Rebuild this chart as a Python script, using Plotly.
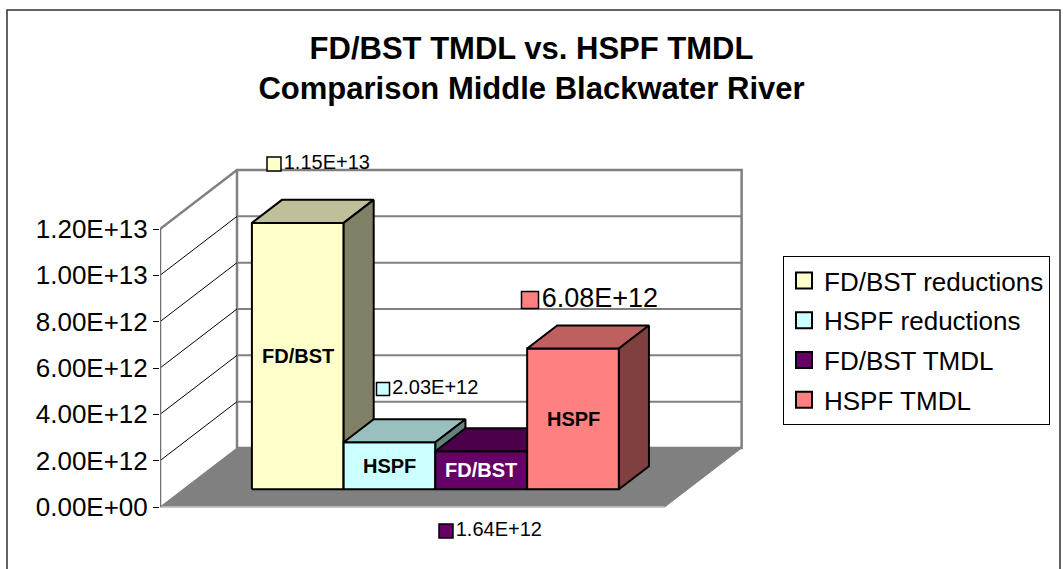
import plotly.graph_objects as go

# ---------------- data ----------------
categories = ["FD/BST reductions", "HSPF reductions", "FD/BST TMDL", "HSPF TMDL"]
values = [1.15e13, 2.03e12, 1.64e12, 6.08e12]
bar_labels = ["FD/BST", "HSPF", "FD/BST", "HSPF"]
value_labels = ["1.15E+13", "2.03E+12", "1.64E+12", "6.08E+12"]
tick_values = [0, 2e12, 4e12, 6e12, 8e12, 1e13, 1.2e13]
tick_labels = ["0.00E+00", "2.00E+12", "4.00E+12", "6.00E+12",
               "8.00E+12", "1.00E+13", "1.20E+13"]

# ---------------- style ----------------
front_colors = ["#FFFFCC", "#CCFFFF", "#660066", "#FF8080"]
top_colors = ["#BFBF99", "#99BFBF", "#4C004C", "#BF6060"]
side_colors = ["#808066", "#668080", "#330033", "#804040"]
label_colors = ["black", "black", "white", "black"]
FONT = "Arial, Liberation Sans, sans-serif"

W, H = 1063, 569
PL, PR, PT, PB = 160, 745, 140, 545          # plot area in pixels
ZERO_PX, TOP_PX = 507, 229                   # pixel rows of 0 and 1.2e13 on front plane
PX_PER_X = 91.75                             # pixels per category unit
PX_PER_Y = (ZERO_PX - TOP_PX) / tick_values[-1]
X_LEFT = -0.75
X_RIGHT = len(values) + 0.75
DX = 77 / PX_PER_X                           # depth offset (x units)
DY = 59 / PX_PER_Y                           # depth offset (value units)
Z0, Z1 = 0.30, 0.69                          # bar depth span (fraction of floor depth)
VMAX = tick_values[-1]

x_range = [X_LEFT, X_LEFT + (PR - PL) / PX_PER_X]
y_range = [-(PB - ZERO_PX) / PX_PER_Y, (ZERO_PX - PT) / PX_PER_Y]


def P(x, v, z):
    return x + z * DX, v + z * DY


def poly(pts, fill, line_color="black", width=2):
    xs = [p[0] for p in pts] + [pts[0][0]]
    ys = [p[1] for p in pts] + [pts[0][1]]
    return go.Scatter(x=xs, y=ys, mode="lines", fill="toself", fillcolor=fill,
                      line=dict(color=line_color, width=width),
                      hoverinfo="skip", showlegend=False)


def seg(a, b, color, width):
    return go.Scatter(x=[a[0], b[0]], y=[a[1], b[1]], mode="lines",
                      line=dict(color=color, width=width),
                      hoverinfo="skip", showlegend=False)


def px2x(px):
    return X_LEFT + (px - PL) / PX_PER_X


def py2y(py):
    return (ZERO_PX - py) / PX_PER_Y


fig = go.Figure()

# back wall
fig.add_trace(poly([P(X_LEFT, 0, 1), P(X_RIGHT, 0, 1), P(X_RIGHT, VMAX, 1), P(X_LEFT, VMAX, 1)],
                   "white", "#808080", 2.5))
for v in tick_values[1:-1]:
    fig.add_trace(seg(P(X_LEFT, v, 1), P(X_RIGHT, v, 1), "#808080", 2))
# left wall
for v in tick_values[1:-1]:
    fig.add_trace(seg(P(X_LEFT, v, 0), P(X_LEFT, v, 1), "black", 1))
fig.add_trace(seg(P(X_LEFT, VMAX, 0), P(X_LEFT, VMAX, 1), "#808080", 2.5))
# floor
fig.add_trace(poly([P(X_LEFT, 0, 0), P(X_RIGHT, 0, 0), P(X_RIGHT, 0, 1), P(X_LEFT, 0, 1)],
                   "#808080", "#808080", 1))
fig.add_trace(seg(P(X_LEFT, 0, 0), P(X_RIGHT, 0, 0), "#C8C8C8", 1.5))
# front value axis line
fig.add_trace(seg(P(X_LEFT, 0, 0), P(X_LEFT, VMAX, 0), "#707070", 2.5))

# bars
for i, v in enumerate(values):
    x0, x1 = i, i + 1
    fig.add_trace(poly([P(x0, 0, Z0), P(x1, 0, Z0), P(x1, v, Z0), P(x0, v, Z0)], front_colors[i]))
    fig.add_trace(poly([P(x0, v, Z0), P(x1, v, Z0), P(x1, v, Z1), P(x0, v, Z1)], top_colors[i]))
    fig.add_trace(poly([P(x1, 0, Z0), P(x1, 0, Z1), P(x1, v, Z1), P(x1, v, Z0)], side_colors[i]))

# labels inside bars
for i, v in enumerate(values):
    cx, cy = P(i + 0.5, v / 2, Z0)
    fig.add_annotation(x=cx, y=cy, xref="x", yref="y", text="<b>%s</b>" % bar_labels[i],
                       showarrow=False, font=dict(family=FONT, size=20, color=label_colors[i]))

# value labels (legend-key square + text), pixel anchor positions
label_pos = [(274, 164), (383, 389), (446, 531), (530, 300)]
label_marker = [14, 13, 14, 17]
label_font = [20, 20, 20, 27]
for i in range(len(values)):
    px, py = label_pos[i]
    fig.add_trace(go.Scatter(
        x=[px2x(px)], y=[py2y(py)], mode="markers+text",
        marker=dict(symbol="square", size=label_marker[i], color=front_colors[i],
                    line=dict(color="black", width=1.5)),
        text=[value_labels[i]], textposition="middle right",
        textfont=dict(family=FONT, size=label_font[i], color="black"),
        hoverinfo="skip", showlegend=False, cliponaxis=False))

# legend entries
for i, c in enumerate(categories):
    fig.add_trace(go.Scatter(
        x=[None], y=[None], mode="markers", name=c, legendgroup=str(i),
        marker=dict(symbol="square", size=16, color=front_colors[i],
                    line=dict(color="black", width=2))))

# outer chart border
fig.add_shape(type="rect", xref="paper", yref="paper",
              x0=(7 - PL) / (PR - PL), x1=(1060 - PL) / (PR - PL),
              y0=(PB - 580) / (PB - PT), y1=(PB - 10) / (PB - PT),
              line=dict(color="#303030", width=1.5), fillcolor="rgba(0,0,0,0)")

fig.update_layout(
    width=W, height=H,
    margin=dict(l=PL, r=W - PR, t=PT, b=H - PB, autoexpand=False),
    paper_bgcolor="white", plot_bgcolor="white",
    title=dict(text="FD/BST TMDL vs. HSPF TMDL<br>Comparison Middle Blackwater River",
               x=0.5, xref="container", xanchor="center",
               y=1 - 59 / H, yref="container", yanchor="middle",
               font=dict(family=FONT, size=31, color="black", weight="bold")),
    xaxis=dict(range=x_range, visible=False, fixedrange=True),
    yaxis=dict(range=y_range, tickvals=tick_values, ticktext=tick_labels,
               ticks="outside", ticklen=6, tickcolor="black", tickwidth=1,
               showgrid=False, zeroline=False, showline=False,
               tickfont=dict(family=FONT, size=26, color="black"),
               automargin=False, fixedrange=True),
    legend=dict(x=(783 - PL) / (PR - PL), y=(PB - 256) / (PB - PT),
                xanchor="left", yanchor="top", bgcolor="white",
                bordercolor="black", borderwidth=1,
                font=dict(family=FONT, size=26, color="black"),
                tracegroupgap=3, itemwidth=30, traceorder="grouped"),
    showlegend=True,
)

fig.write_html("out.html",
               config={"displayModeBar": False, "staticPlot": True},
               post_script="document.body.style.margin='0';document.body.style.padding='0';")
